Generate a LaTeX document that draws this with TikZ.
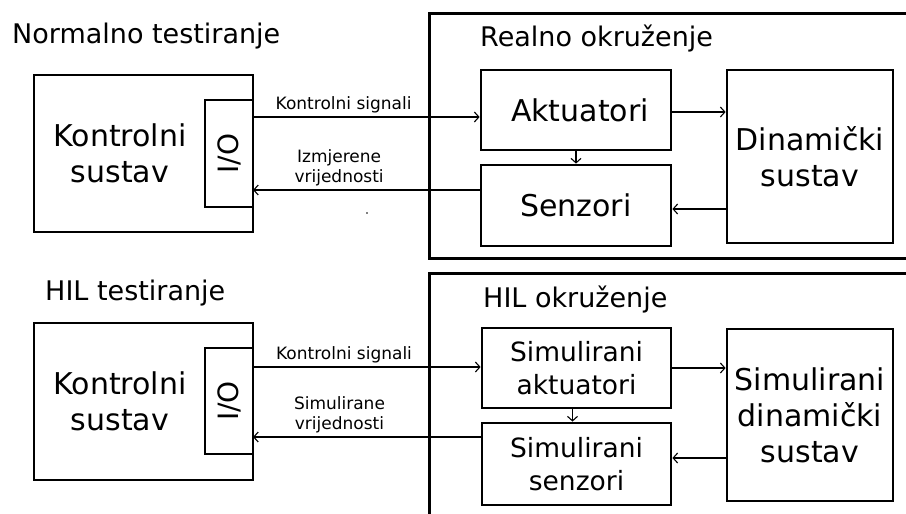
\documentclass[tikz,border=0pt]{standalone}
\usepackage{fontspec}
\setmainfont{DejaVu Sans}
\usetikzlibrary{calc,positioning,arrows.meta}

\begin{document}
\begin{tikzpicture}[x=1pt,y=-1pt,
  blok/.style={draw,line width=2.8pt,inner sep=0pt},
  veza/.style={-{Straight Barb[length=4.5pt,width=10pt,line width=1.1pt]},line width=1.2pt},
  naslov/.style={anchor=base west,inner sep=0pt,font=\fontsize{27}{32}\selectfont},
  veliki/.style={align=center,font=\fontsize{30}{36}\selectfont},
  srednji/.style={align=center,font=\fontsize{26.5}{33}\selectfont},
  mali/.style={align=center,font=\fontsize{17}{20}\selectfont}]
\useasboundingbox (0,0) rectangle (906,514);
\fill[white] (0,0) rectangle (906,514);
\clip (0,0) rectangle (906,514);
% normalno testiranje
\node[naslov] (nt) at (12,43) {Normalno testiranje};
\node[blok,minimum width=219pt,minimum height=157pt] (ks1) at (143.5,153.5) {};
\node[veliki] (ks1t) at (120,153) {Kontrolni\\sustav};
\node[blok,minimum width=48pt,minimum height=107pt] (io1) at (229,153.5) {};
\node[rotate=90,font=\fontsize{28}{32}\selectfont] (io1t) at (io1) {I/O};
\node[blok,anchor=north west,minimum width=500pt,minimum height=245pt] (okr1) at (428,12) {};
\node[naslov] (ro) at (480,46) {Realno okruženje};
\node[blok,minimum width=190pt,minimum height=80pt,font=\fontsize{30}{36}\selectfont] (akt1) at (576,110) {\hspace{8pt}Aktuatori};
\node[blok,minimum width=190pt,minimum height=81pt,font=\fontsize{30}{36}\selectfont] (sen1) at (576,205.5) {Senzori};
\node[blok,minimum width=166pt,minimum height=173pt,veliki] (din1) at (810,156.5) {Dinamički\\sustav};
\coordinate (ks1a) at (253,117);
\coordinate (ks1b) at (253,190);
\draw[veza] (ks1a) -- node[mali,above,pos=0.4] {Kontrolni signali} (akt1.west |- ks1a);
\draw[veza] (sen1.west |- ks1b) -- node[mali,above,pos=0.62] {Izmjerene\\vrijednosti} (ks1b);
\draw[veza] ([yshift=-2pt]akt1.east) -- ([yshift=-2pt]din1.west |- akt1.east);
\draw[veza] ([yshift=-3.5pt]din1.west |- sen1.east) -- ([yshift=-3.5pt]sen1.east);
\draw[veza] (akt1.south) -- (sen1.north);
\fill (367,213) circle (0.9);
% HIL testiranje
\node[naslov] (ht) at (45,300) {HIL testiranje};
\node[blok,minimum width=219pt,minimum height=157pt] (ks2) at (143.5,401.5) {};
\node[veliki] (ks2t) at (120,401) {Kontrolni\\sustav};
\node[blok,minimum width=48pt,minimum height=106pt] (io2) at (229,401) {};
\node[rotate=90,font=\fontsize{28}{32}\selectfont] (io2t) at (io2) {I/O};
\node[blok,anchor=north west,minimum width=500pt,minimum height=270pt] (okr2) at (428,272) {};
\node[naslov] (ho) at (483,307) {HIL okruženje};
\node[blok,minimum width=189pt,minimum height=80pt,srednji] (akt2) at (576.5,368) {Simulirani\\aktuatori};
\node[blok,minimum width=189pt,minimum height=82pt,srednji] (sen2) at (576.5,464) {Simulirani\\senzori};
\node[blok,minimum width=166pt,minimum height=172pt,veliki] (din2) at (810,415) {Simulirani\\dinamički\\sustav};
\coordinate (ks2a) at (253,367);
\coordinate (ks2b) at (253,437);
\draw[veza] (ks2a) -- node[mali,above,pos=0.4] {Kontrolni signali} (akt2.west |- ks2a);
\draw[veza] (sen2.west |- ks2b) -- node[mali,above,pos=0.62] {Simulirane\\vrijednosti} (ks2b);
\draw[veza] (akt2.east) -- (din2.west |- akt2.east);
\draw[veza] ([yshift=6pt]din2.west |- sen2.east) -- ([yshift=6pt]sen2.east);
\draw[veza] ([xshift=-4pt]akt2.south) -- ([xshift=-4pt]sen2.north);
\end{tikzpicture}
\end{document}
